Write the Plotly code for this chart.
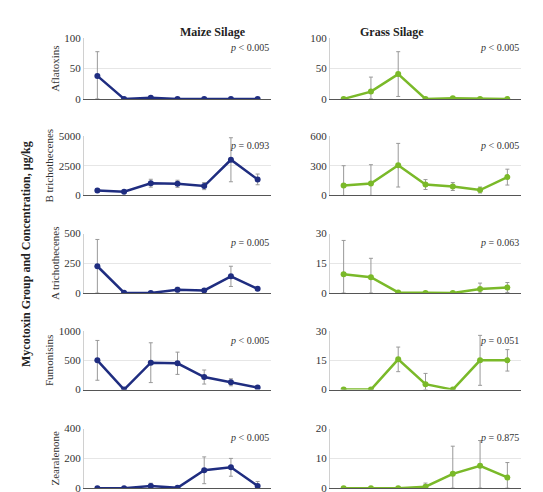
import plotly.graph_objects as go
from plotly.subplots import make_subplots

x = [1, 2, 3, 4, 5, 6, 7]
groups = ["Aflatoxins", "B trichothecenes", "A trichothecenes", "Fumonisins", "Zearalenone"]

maize = [
    [38, 0, 2, 0, 0, 0, 0],
    [420, 320, 1030, 980, 790, 3000, 1350],
    [225, 3, 0, 28, 22, 140, 35],
    [500, 0, 460, 450, 215, 125, 35],
    [0, 0, 15, 2, 120, 140, 15],
]
maize_err = [
    [40, 0, 2, 0, 0, 0, 0],
    [120, 60, 330, 300, 300, 1850, 450],
    [225, 0, 0, 20, 10, 85, 10],
    [340, 0, 340, 190, 120, 60, 10],
    [0, 0, 18, 0, 90, 60, 30],
]
grass = [
    [0, 12, 41, 0, 1, 0, 0],
    [100, 120, 305, 110, 90, 55, 185],
    [9.5, 8, 0.3, 0, 0, 2, 2.8],
    [0, 0, 15.5, 2.8, 0, 15, 15],
    [0, 0, 0, 0.5, 4.8, 7.5, 3.6],
]
grass_err = [
    [0, 24, 37, 0, 1, 0, 0],
    [200, 190, 220, 50, 40, 30, 80],
    [17, 9.5, 0, 0, 0, 3, 2.5],
    [0, 0, 6.3, 5.5, 0, 12.8, 5.5],
    [0, 0, 0, 1.2, 9.3, 8.5, 5],
]
maize_p = ["p < 0.005", "p = 0.093", "p = 0.005", "p < 0.005", "p < 0.005"]
grass_p = ["p < 0.005", "p < 0.005", "p = 0.063", "p = 0.051", "p = 0.875"]
maize_ticks = [[0, 50, 100], [0, 2500, 5000], [0, 250, 500], [0, 500, 1000], [0, 200, 400]]
grass_ticks = [[0, 50, 100], [0, 300, 600], [0, 15, 30], [0, 15, 30], [0, 10, 20]]

W, H = 543, 492
font = "Liberation Serif"
col_px = [(76, 263), (322, 513)]
row_px = [(25, 87), (125, 186), (225, 286), (325, 385), (425, 486)]

fig = make_subplots(rows=5, cols=2)

def add(col, vals, errs, color, ticks, ptxt, row):
    minus = [min(e, v) for e, v in zip(errs, vals)]
    fig.add_trace(go.Scatter(
        x=x, y=vals, mode="lines+markers",
        line=dict(color=color, width=2.5), marker=dict(size=6, color=color),
        error_y=dict(type="data", array=errs, arrayminus=minus, color="#999999",
                     thickness=1, width=2),
        showlegend=False), row=row, col=col)
    top, bot = row_px[row - 1]
    left, right = col_px[col - 1]
    fig.update_yaxes(range=[0, ticks[-1]], tickvals=ticks, showgrid=True,
                     gridcolor="#e6e6e6", showline=True, linecolor="#d0d0d0",
                     ticks="", tickfont=dict(family=font, size=11, color="#333"),
                     domain=[1 - bot / H, 1 - top / H], row=row, col=col)
    fig.update_xaxes(range=[0.5, 7.5], showticklabels=False, showgrid=False,
                     showline=True, linecolor="#555", ticks="",
                     domain=[left / W, right / W], row=row, col=col)
    idx = (row - 1) * 2 + col
    s = str(idx) if idx > 1 else ""
    fig.add_annotation(xref=f"x{s} domain", yref=f"y{s} domain",
                       x=1, y=0.97, xanchor="right", yanchor="top", showarrow=False,
                       text="<i>p</i>" + ptxt[1:],
                       font=dict(family=font, size=10, color="#333"))

for i in range(5):
    add(1, maize[i], maize_err[i], "#1f2d80", maize_ticks[i], maize_p[i], i + 1)
    add(2, grass[i], grass_err[i], "#7ab929", grass_ticks[i], grass_p[i], i + 1)
    fig.update_yaxes(title=dict(text=groups[i], font=dict(family=font, size=11, color="#333"),
                                standoff=2), row=i + 1, col=1)

fig.add_annotation(xref="paper", yref="paper", x=170 / W, y=1 - 9 / H, showarrow=False,
                   text="<b>Maize Silage</b>", font=dict(family=font, size=12, color="#222"))
fig.add_annotation(xref="paper", yref="paper", x=418 / W, y=1 - 9 / H, showarrow=False,
                   text="<b>Grass Silage</b>", font=dict(family=font, size=12, color="#222"))
fig.add_annotation(xref="paper", yref="paper", x=9 / W, y=0.5, showarrow=False,
                   textangle=-90, text="<b>Mycotoxin Group and Concentration, µg/kg</b>",
                   font=dict(family=font, size=12, color="#222"))

fig.update_layout(width=W, height=H, margin=dict(l=0, r=0, t=0, b=0),
                  plot_bgcolor="white", paper_bgcolor="white")
fig.write_html("out.html")
